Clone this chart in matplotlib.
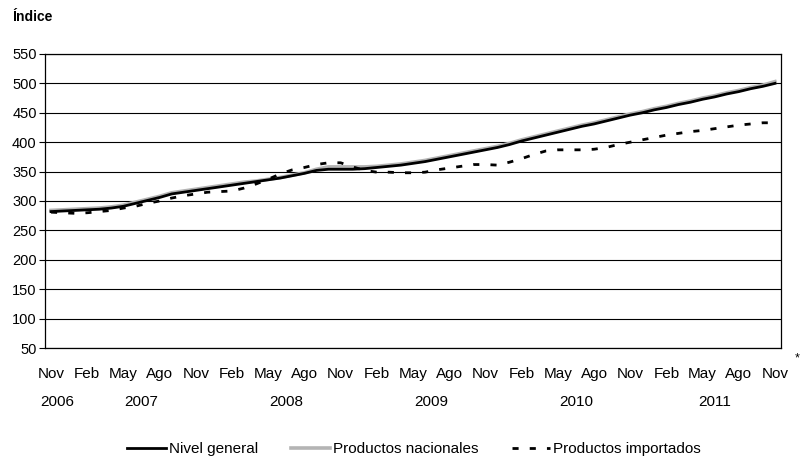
import matplotlib
matplotlib.use("Agg")
from matplotlib import pyplot as plt
from matplotlib import transforms
import numpy as np

plt.rcParams['font.family'] = ['Liberation Sans', 'DejaVu Sans']

# monthly series, Nov 2006 .. Nov 2011
nivel_general = [282, 283, 284, 285, 286, 288, 291, 296, 301, 306,
                 312, 315, 318, 321, 324, 327, 330, 333, 336, 339,
                 343, 347, 352, 354, 354, 354, 355, 357, 359, 361,
                 364, 367, 371, 375, 379, 383, 387, 391, 396, 402,
                 407, 412, 417, 422, 427, 431, 436, 441, 446, 450,
                 455, 459, 464, 468, 473, 477, 482, 486, 491, 495,
                 500]
productos_nacionales = [284, 285, 286, 287, 288, 290, 293, 298, 303, 308,
                        314, 317, 320, 323, 326, 329, 332, 334, 337, 340,
                        344, 348, 354, 358, 358, 358, 358, 359, 361, 363,
                        366, 369, 373, 377, 381, 385, 389, 393, 398, 404,
                        409, 414, 419, 424, 429, 433, 438, 443, 448, 452,
                        457, 461, 466, 470, 475, 479, 484, 488, 493, 497,
                        503]
productos_importados = [281, 280, 279, 280, 282, 284, 288, 291, 296, 300,
                        305, 309, 312, 315, 316, 317, 322, 329, 337, 346,
                        353, 357, 362, 365, 365, 358, 352, 349, 349, 348,
                        348, 349, 353, 356, 359, 362, 362, 361, 366, 372,
                        379, 385, 387, 387, 387, 388, 391, 396, 400, 404,
                        408, 412, 415, 418, 420, 423, 426, 429, 431, 433,
                        433]

month_labels = ["Nov", "Feb", "May", "Ago"] * 5 + ["Nov"]
years = ["2006", "2007", "2008", "2009", "2010", "2011"]
year_pos = [0.5, 7.5, 19.5, 31.5, 43.5, 55.0]

x = np.arange(len(nivel_general))

fig = plt.figure(figsize=(8.02, 4.59), dpi=100)
ax = fig.add_axes([0.0561, 0.2418, 0.9177, 0.6406])

ax.plot(x, productos_nacionales, color="#b4b4b4", lw=2.6, zorder=3,
        label="Productos nacionales")
ax.plot(x, nivel_general, color="black", lw=2.0, zorder=4,
        label="Nivel general")
ax.plot(x, productos_importados, color="black", lw=2.0, zorder=5,
        dashes=(2.2, 4.0), label="Productos importados")

ax.set_xlim(-0.5, 60.5)
ax.set_ylim(50, 550)
ax.set_yticks(np.arange(50, 551, 50))
ax.set_xticks(np.arange(0, 61, 3))
ax.set_xticklabels(month_labels)
ax.tick_params(axis="x", length=0, pad=14, labelsize=11)
ax.tick_params(axis="y", length=4, width=0.8, labelsize=10.5, pad=2)
ax.grid(True, axis="y", color="black", lw=0.8)
for s in ax.spines.values():
    s.set_color("black")
    s.set_linewidth(0.9)

trans = transforms.blended_transform_factory(ax.transData, fig.transFigure)
for yr, p in zip(years, year_pos):
    ax.text(p, 1 - 402 / 459, yr, transform=trans, ha="center",
            va="center", fontsize=11)

fig.text(797 / 802, 1 - 358 / 459, "*", ha="center", va="center",
         fontsize=9)
fig.text(12 / 802, 1 - 17 / 459, "Índice", ha="left", va="center",
         fontsize=10, fontweight="bold")

h, l = ax.get_legend_handles_labels()
order = [1, 0, 2]
fig.legend([h[i] for i in order], [l[i] for i in order], loc="center",
           bbox_to_anchor=(414 / 802, 1 - 449 / 459), ncol=3, frameon=False,
           fontsize=11, handlelength=2.5, handletextpad=0.2,
           columnspacing=2.2, borderpad=0.1)

fig.savefig("out.png", dpi=100)
